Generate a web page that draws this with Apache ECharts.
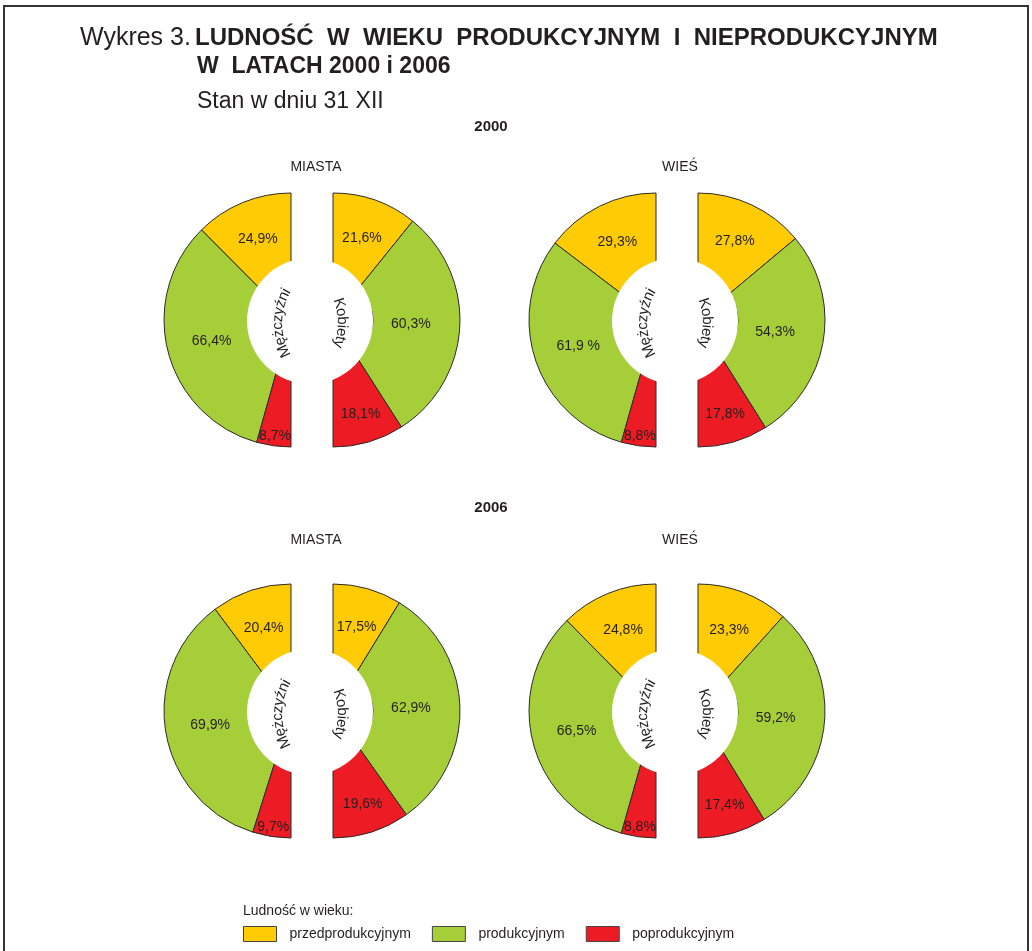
<!DOCTYPE html>
<html>
<head>
<meta charset="utf-8">
<title>Wykres 3</title>
<script src="https://cdn.jsdelivr.net/npm/echarts@6.0.0/dist/echarts.min.js"></script>
<style>
html, body { margin: 0; padding: 0; background: #fff; }
#container { width: 1032px; height: 951px; }
</style>
</head>
<body>
<div id="container"></div>
<script>
// dane: udział ludności w wieku ... w %
var categories = ['przedprodukcyjnym', 'produkcyjnym', 'poprodukcyjnym'];
var years = ['2000', '2006'];
var areas = ['MIASTA', 'WIEŚ'];
var sexes = ['Mężczyźni', 'Kobiety'];

var miasta2000M = [24.9, 66.4, 8.7];
var miasta2000K = [21.6, 60.3, 18.1];
var wies2000M = [29.3, 61.9, 8.8];
var wies2000K = [27.8, 54.3, 17.8];
var miasta2006M = [20.4, 69.9, 9.7];
var miasta2006K = [17.5, 62.9, 19.6];
var wies2006M = [24.8, 66.5, 8.8];
var wies2006K = [23.3, 59.2, 17.4];

// kolejnosc: 2000 miasta, 2000 wies, 2006 miasta, 2006 wies
var pairs = [
    [miasta2000M, miasta2000K],
    [wies2000M, wies2000K],
    [miasta2006M, miasta2006K],
    [wies2006M, wies2006K]
];
// etykieta "61,9 %" ma w oryginale spacje
var spacedLabels = { '1-0-1': true };

var colors = ['#ffcb05', '#a6ce39', '#ed1c24'];
var FONT = '"Liberation Sans", Arial, Helvetica, sans-serif';
var TXT = '#231f20';

// uklad
var rowY = [320, 711];
var colX = [312, 677];
var halfGap = 21;
var outerR = 127;
var holeR = 63;
var labelR = [[87, 82, 117], [87, 78, 98]];
var yearY = [127, 508];
var areaY = [167, 540];
var areaX = [316, 680];

var dom = document.getElementById('container');
var myChart = echarts.init(dom, null, { renderer: 'canvas' });

function fmt(v) {
    return v.toFixed(1).replace('.', ',');
}

function makeLabelLayout(m) {
    return function (p) {
        var vals = m.vals;
        var sum = 0, cum = 0;
        for (var i = 0; i < vals.length; i++) {
            sum += vals[i];
            if (i < p.dataIndex) cum += vals[i];
        }
        var frac = (cum + vals[p.dataIndex] / 2) / sum;
        var deg = m.side === 0 ? 90 + frac * 180 : 90 - frac * 180;
        var a = deg * Math.PI / 180;
        var r = labelR[m.side][p.dataIndex];
        return {
            x: m.cx + r * Math.cos(a),
            y: m.cy - r * Math.sin(a),
            align: 'center',
            verticalAlign: 'middle'
        };
    };
}

var series = [];
var graphics = [];

pairs.forEach(function (pair, k) {
    var row = Math.floor(k / 2), col = k % 2;
    var mx = colX[col], cy = rowY[row];
    pair.forEach(function (vals, side) {
        var cx = side === 0 ? mx - halfGap : mx + halfGap;
        var m = { cx: cx, cy: cy, side: side, vals: vals };
        series.push({
            type: 'pie',
            name: areas[col] + ' ' + years[row] + ' ' + sexes[side],
            center: [cx, cy],
            radius: [40, outerR],
            startAngle: 90,
            endAngle: side === 0 ? 270 : -90,
            clockwise: side === 1,
            silent: true,
            avoidLabelOverlap: false,
            itemStyle: { borderColor: '#2b2b2b', borderWidth: 1 },
            label: {
                show: true,
                position: 'inside',
                color: TXT,
                fontSize: 14,
                fontFamily: FONT,
                formatter: function (p) {
                    var sp = spacedLabels[k + '-' + side + '-' + p.dataIndex] ? ' ' : '';
                    return fmt(p.value) + sp + '%';
                }
            },
            labelLine: { show: false },
            labelLayout: makeLabelLayout(m),
            emphasis: { disabled: true },
            data: vals.map(function (v, i) {
                return { name: categories[i], value: v, itemStyle: { color: colors[i] } };
            })
        });
    });
    // bialy srodek
    series.push({
        type: 'pie',
        name: 'srodek',
        center: [mx - 2, cy + 1],
        radius: [0, holeR],
        silent: true,
        z: 5,
        label: { show: false },
        labelLine: { show: false },
        itemStyle: { color: '#fff', borderWidth: 0 },
        emphasis: { disabled: true },
        data: [{ name: 'srodek', value: 1 }]
    });

    // napisy po luku
    graphics = graphics.concat(arcText(sexes[0], mx - 34 + 65, cy + 3, 65, 180, 15));
    graphics = graphics.concat(arcText(sexes[1], mx + 30 - 65, cy + 3, 65, 0, 15));
});

function arcText(text, ccx, ccy, R, baseDeg, size) {
    var font = size + 'px ' + FONT;
    var ctx = document.createElement('canvas').getContext('2d');
    ctx.font = font;
    var chars = Array.from(text);
    var widths = chars.map(function (c) { return ctx.measureText(c).width; });
    var total = widths.reduce(function (a, b) { return a + b; }, 0);
    var start = baseDeg + (total / 2) / R * 180 / Math.PI;
    var acc = 0, out = [];
    chars.forEach(function (c, i) {
        var th = start - (acc + widths[i] / 2) / R * 180 / Math.PI;
        acc += widths[i];
        var rad = th * Math.PI / 180;
        out.push({
            type: 'text',
            x: ccx + R * Math.cos(rad),
            y: ccy - R * Math.sin(rad),
            rotation: (th - 90) * Math.PI / 180,
            z: 100,
            silent: true,
            style: { text: c, font: font, fill: TXT, textAlign: 'center', textVerticalAlign: 'middle' }
        });
    });
    return out;
}

function label(text, x, y, font, align) {
    return {
        type: 'text', x: x, y: y, silent: true, z: 100,
        style: { text: text, font: font, fill: TXT, textAlign: align || 'left', textVerticalAlign: 'middle' }
    };
}

// ramka
graphics.push({
    type: 'polyline',
    silent: true,
    shape: { points: [[4, 951], [4, 6], [1028, 6], [1028, 951]] },
    style: { stroke: '#333', lineWidth: 2, fill: null }
});

// tytul
graphics.push(label('Wykres 3.', 80, 38, '25px ' + FONT));
graphics.push(label('LUDNOŚĆ  W  WIEKU  PRODUKCYJNYM  I  NIEPRODUKCYJNYM', 195, 38, 'bold 24px ' + FONT));
graphics.push(label('W  LATACH 2000 i 2006', 197, 67, 'bold 23px ' + FONT));
graphics.push(label('Stan w dniu 31 XII', 197, 102, '23px ' + FONT));

years.forEach(function (y, r) {
    graphics.push(label(y, 491, yearY[r], 'bold 15px ' + FONT, 'center'));
    areas.forEach(function (a, c) {
        graphics.push(label(a, areaX[c], areaY[r], '14px ' + FONT, 'center'));
    });
});

graphics.push(label('Ludność w wieku:', 243, 911, '14px ' + FONT));

option = {
    animation: false,
    backgroundColor: '#fff',
    textStyle: { fontFamily: FONT },
    legend: {
        data: categories,
        left: 243,
        top: 926,
        padding: 0,
        icon: 'rect',
        itemWidth: 33,
        itemHeight: 15,
        itemGap: 21,
        selectedMode: false,
        itemStyle: { borderColor: '#444', borderWidth: 1 },
        textStyle: { fontSize: 14, color: TXT, fontFamily: FONT, padding: [0, 0, 0, 8] }
    },
    graphic: graphics,
    series: series
};

if (option && typeof option === 'object') {
    myChart.setOption(option, true);
}
</script>
</body>
</html>
